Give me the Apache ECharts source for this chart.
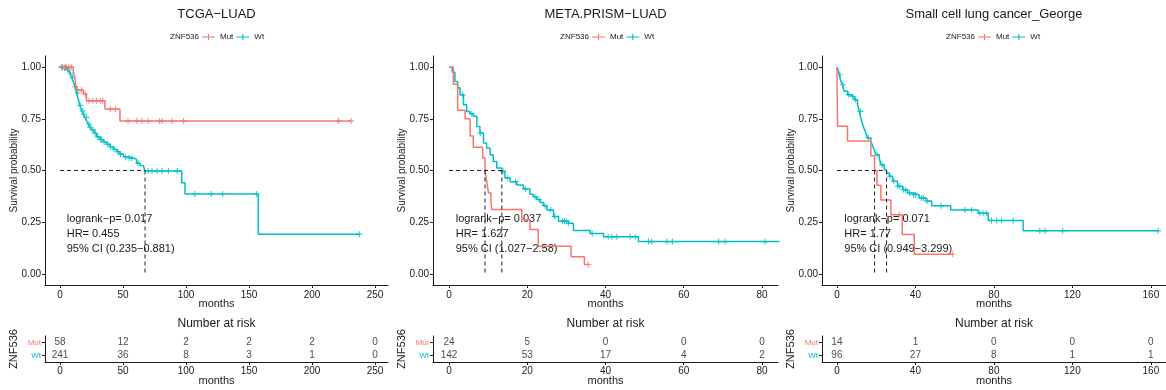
<!DOCTYPE html>
<html>
<head>
<meta charset="utf-8">
<title>ZNF536 survival</title>
<script src="https://cdn.jsdelivr.net/npm/echarts@6/dist/echarts.min.js"></script>
<style>
html,body{margin:0;padding:0;background:#fff}
#chart{width:1166px;height:390px}
</style>
</head>
<body>
<div id="chart"></div>
<script>
// data
var titles = ['TCGA\u2212LUAD', 'META.PRISM\u2212LUAD', 'Small cell lung cancer_George'];

// TCGA-LUAD
var tcgaMutT = [0, 10.6, 11.9, 13.2, 18.5, 21.0, 35.7, 47.6];
var tcgaMutS = [1, 0.98, 0.94, 0.89, 0.87, 0.837, 0.797, 0.74];
var tcgaMutEnd = 231;
var tcgaMutCens = [2, 4, 5, 7, 9, 14, 17, 20, 23, 26, 29, 32, 34, 40, 44, 54, 61, 65, 70, 79, 81, 89, 98, 221, 231];
var tcgaWtT = [0, 3.0, 5.5, 6.6, 8.0, 9.3, 10.5, 11.9, 13.2, 14.5, 15.8, 17.2, 18.5, 19.8, 21.1, 22.5, 23.8, 25.1, 27.1, 29.1, 31.7, 34.4, 37.0, 39.7, 42.3, 45.0, 47.6, 50.3, 54.0, 58.2, 60.8, 63.5, 66.1, 67.5, 96.6, 99.2, 157.4];
var tcgaWtS = [1, 0.996, 0.992, 0.985, 0.972, 0.95, 0.93, 0.905, 0.875, 0.845, 0.815, 0.788, 0.772, 0.757, 0.74, 0.724, 0.71, 0.696, 0.68, 0.663, 0.65, 0.638, 0.627, 0.615, 0.603, 0.591, 0.579, 0.567, 0.56, 0.554, 0.535, 0.524, 0.518, 0.498, 0.441, 0.386, 0.192];
var tcgaWtEnd = 237.6;
var tcgaWtCens = [1, 2, 3.5, 4.5, 6, 8, 10, 12, 14, 16, 18, 19, 21, 23, 24, 26, 28, 30, 32, 33, 35, 38, 40, 43, 46, 48, 52, 55, 57, 62, 70, 73, 77, 81, 86, 93, 107, 120, 129, 156, 237.6];
var tcgaMedians = [67.5];
var tcgaStats = ['logrank\u2212p= 0.017', 'HR= 0.455', '95% CI (0.235\u22120.881)'];
var tcgaTicks = [0, 50, 100, 150, 200, 250];
var tcgaRiskMut = [58, 12, 2, 2, 2, 0];
var tcgaRiskWt = [241, 36, 8, 3, 1, 0];

// META.PRISM-LUAD
var metaMutT = [0, 1.1, 2.2, 4.1, 5.4, 6.2, 8.6, 9.2, 9.6, 10.1, 10.7, 10.9, 18.6, 20.7, 22.8, 31.2, 34.6];
var metaMutS = [1, 0.917, 0.792, 0.75, 0.667, 0.612, 0.56, 0.5, 0.448, 0.391, 0.351, 0.311, 0.262, 0.214, 0.134, 0.083, 0.045];
var metaMutEnd = 35.6;
var metaMutCens = [35.6];
var metaWtT = [0, 0.8, 1.5, 2.2, 2.8, 3.7, 4.5, 5.3, 6.2, 7.1, 7.9, 8.8, 9.6, 10.5, 11.3, 12.2, 13.5, 14.3, 15.6, 17.3, 19.0, 20.7, 21.5, 22.4, 23.3, 24.1, 25.0, 26.7, 28.0, 30.5, 31.8, 36.1, 39.5, 48.4];
var metaWtS = [1, 0.975, 0.931, 0.9, 0.866, 0.818, 0.786, 0.775, 0.762, 0.713, 0.681, 0.633, 0.609, 0.576, 0.544, 0.512, 0.496, 0.464, 0.446, 0.43, 0.41, 0.385, 0.373, 0.36, 0.345, 0.33, 0.309, 0.277, 0.255, 0.245, 0.21, 0.195, 0.18, 0.156];
var metaWtEnd = 84.5;
var metaWtCens = [3.5, 5.8, 8, 13.8, 15, 17, 19.5, 22, 23, 24.5, 26, 27, 29, 29.5, 30, 30.5, 36.6, 40.7, 41.6, 42.9, 46.3, 47.6, 51.0, 51.8, 55.7, 57.1, 68.9, 70.6, 80.8];
var metaMedians = [9.2, 13.5];
var metaStats = ['logrank\u2212p= 0.037', 'HR= 1.627', '95% CI (1.027\u22122.58)'];
var metaTicks = [0, 20, 40, 60, 80];
var metaRiskMut = [24, 5, 0, 0, 0];
var metaRiskWt = [142, 53, 17, 4, 2];

// Small cell lung cancer_George
var sclcMutT = [0, 0.3, 5.4, 17.3, 19.2, 20.4, 22.4, 27.5, 33.3, 39.4];
var sclcMutS = [1, 0.714, 0.643, 0.571, 0.5, 0.429, 0.357, 0.286, 0.19, 0.095];
var sclcMutEnd = 59;
var sclcMutCens = [31.8, 59];
var sclcWtT = [0, 0.5, 1.2, 2.0, 2.9, 3.7, 5.4, 7.1, 8.8, 10.5, 11.4, 12.2, 13.1, 14.0, 14.8, 15.6, 17.3, 18.2, 19.0, 19.9, 21.6, 22.4, 24.1, 25.3, 26.7, 28.4, 30.9, 33.5, 36.0, 38.6, 41.9, 45.4, 48.3, 58.0, 72.0, 77.1, 94.9];
var sclcWtS = [1, 0.99, 0.963, 0.931, 0.915, 0.883, 0.866, 0.858, 0.842, 0.818, 0.786, 0.754, 0.721, 0.7, 0.681, 0.657, 0.641, 0.62, 0.601, 0.576, 0.56, 0.528, 0.504, 0.488, 0.472, 0.448, 0.424, 0.407, 0.391, 0.383, 0.367, 0.352, 0.329, 0.309, 0.293, 0.258, 0.208];
var sclcWtEnd = 163.7;
var sclcWtCens = [1.5, 3, 6, 8, 9.5, 12, 16, 20.5, 23, 27, 29, 31, 32, 34, 35, 37, 39, 40, 43, 44, 46, 53.1, 65.2, 68.6, 72.9, 74.5, 76.3, 78.8, 81.4, 83.9, 89.8, 103.4, 106, 115, 163.7];
var sclcMedians = [19.2, 25.3];
var sclcStats = ['logrank\u2212p= 0.071', 'HR= 1.77', '95% CI (0.949\u22123.299)'];
var sclcTicks = [0, 40, 80, 120, 160];
var sclcRiskMut = [14, 1, 0, 0, 0];
var sclcRiskWt = [96, 27, 8, 1, 1];

var colMut = '#F8766D', colWt = '#00BFC4';
var font = 'Liberation Sans, Arial, sans-serif';
var ink = '#1a1a1a';

var panels = [
    { title: titles[0], mutT: tcgaMutT, mutS: tcgaMutS, mutEnd: tcgaMutEnd, mutCens: tcgaMutCens,
      wtT: tcgaWtT, wtS: tcgaWtS, wtEnd: tcgaWtEnd, wtCens: tcgaWtCens, medians: tcgaMedians,
      stats: tcgaStats, ticks: tcgaTicks, riskMut: tcgaRiskMut, riskWt: tcgaRiskWt },
    { title: titles[1], mutT: metaMutT, mutS: metaMutS, mutEnd: metaMutEnd, mutCens: metaMutCens,
      wtT: metaWtT, wtS: metaWtS, wtEnd: metaWtEnd, wtCens: metaWtCens, medians: metaMedians,
      stats: metaStats, ticks: metaTicks, riskMut: metaRiskMut, riskWt: metaRiskWt },
    { title: titles[2], mutT: sclcMutT, mutS: sclcMutS, mutEnd: sclcMutEnd, mutCens: sclcMutCens,
      wtT: sclcWtT, wtS: sclcWtS, wtEnd: sclcWtEnd, wtCens: sclcWtCens, medians: sclcMedians,
      stats: sclcStats, ticks: sclcTicks, riskMut: sclcRiskMut, riskWt: sclcRiskWt }
];

// pixel layout of each panel
var layout = [
    { left: 45, width: 343, min: -11.9, max: 260.3, textX: 66.7, legendX: 202 },
    { left: 433, width: 345, min: -4.1, max: 84.1, textX: 455.7, legendX: 592 },
    { left: 822, width: 344, min: -7.6, max: 167.7, textX: 844.3, legendX: 978 }
];

function steps(T, S, end) {
    var pts = [];
    for (var i = 0; i < T.length; i++) pts.push([T[i], S[i]]);
    pts.push([end, S[S.length - 1]]);
    return pts;
}
function survAt(T, S, x) {
    var v = S[0];
    for (var i = 0; i < T.length; i++) if (T[i] <= x) v = S[i];
    return v;
}
function cens(T, S, C) {
    return C.map(function (c) { return [c, survAt(T, S, c)]; });
}

var plusSym = 'path://M-0.55,-3H0.55V3H-0.55Z M-3,-0.55H3V0.55H-3Z';
var legendIcon = 'path://M0,3.45H13V4.55H0Z M5.95,1H7.05V7H5.95Z';

var grids = [], xAxes = [], yAxes = [], series = [], legends = [], graphics = [];

panels.forEach(function (p, i) {
    var L = layout[i];
    var cx = L.left + L.width / 2;
    var gMain = 2 * i, gRisk = 2 * i + 1;

    grids.push({ left: L.left, top: 56, width: L.width, height: 229 });
    grids.push({ left: L.left, top: 336, width: L.width, height: 26 });

    function xAxis(grid, margin) {
        return {
            gridIndex: grid, type: 'value', min: L.min, max: L.max,
            axisLine: { show: true, onZero: false, lineStyle: { color: ink, width: 1 } },
            axisTick: { show: true, length: 3, customValues: p.ticks, lineStyle: { color: ink } },
            axisLabel: { customValues: p.ticks, fontFamily: font, fontSize: 10, color: ink, margin: margin },
            splitLine: { show: false }
        };
    }
    xAxes.push(xAxis(gMain, 5));
    xAxes.push(xAxis(gRisk, 4));

    var yTicks = [0, 0.25, 0.5, 0.75, 1];
    yAxes.push({
        gridIndex: gMain, type: 'value', min: -0.054, max: 1.054,
        axisLine: { show: true, onZero: false, lineStyle: { color: ink, width: 1 } },
        axisTick: { show: true, length: 3, customValues: yTicks, lineStyle: { color: ink } },
        axisLabel: { customValues: yTicks, formatter: function (v) { return v.toFixed(2); },
            fontFamily: font, fontSize: 10, color: ink, margin: 4 },
        splitLine: { show: false }
    });
    yAxes.push({
        gridIndex: gRisk, type: 'category', data: ['Wt', 'Mut'],
        axisLine: { show: true, onZero: false, lineStyle: { color: ink, width: 1 } },
        axisTick: { show: true, length: 3, alignWithLabel: true, lineStyle: { color: ink } },
        axisLabel: { fontFamily: font, fontSize: 8, margin: 4,
            color: function (v) { return v === 'Mut' ? colMut : colWt; } }
    });

    // survival curves
    series.push({ name: 'Mut', type: 'line', step: 'end', xAxisIndex: gMain, yAxisIndex: gMain,
        data: steps(p.mutT, p.mutS, p.mutEnd), showSymbol: false, z: 3,
        itemStyle: { color: colMut }, lineStyle: { color: colMut, width: 1.5 } });
    series.push({ name: 'Wt', type: 'line', step: 'end', xAxisIndex: gMain, yAxisIndex: gMain,
        data: steps(p.wtT, p.wtS, p.wtEnd), showSymbol: false, z: 2,
        itemStyle: { color: colWt }, lineStyle: { color: colWt, width: 1.5 } });
    series.push({ name: 'Mut', type: 'scatter', xAxisIndex: gMain, yAxisIndex: gMain,
        data: cens(p.mutT, p.mutS, p.mutCens), symbol: plusSym, symbolSize: 6, z: 3,
        itemStyle: { color: colMut } });
    series.push({ name: 'Wt', type: 'scatter', xAxisIndex: gMain, yAxisIndex: gMain,
        data: cens(p.wtT, p.wtS, p.wtCens), symbol: plusSym, symbolSize: 6, z: 2,
        itemStyle: { color: colWt } });

    // median lines
    var medMax = Math.max.apply(null, p.medians);
    var dashed = { color: '#222', width: 1, type: [4, 3] };
    series.push({ type: 'line', xAxisIndex: gMain, yAxisIndex: gMain, showSymbol: false, z: 5,
        data: [[0, 0.5], [medMax, 0.5]], lineStyle: dashed });
    p.medians.forEach(function (m) {
        series.push({ type: 'line', xAxisIndex: gMain, yAxisIndex: gMain, showSymbol: false, z: 5,
            data: [[m, 0.5], [m, 0]], lineStyle: dashed });
    });

    // number at risk table
    var riskData = [];
    p.ticks.forEach(function (t, k) {
        riskData.push([t, 'Mut', p.riskMut[k]]);
        riskData.push([t, 'Wt', p.riskWt[k]]);
    });
    series.push({ type: 'scatter', xAxisIndex: gRisk, yAxisIndex: gRisk, data: riskData,
        encode: { x: 0, y: 1 }, symbolSize: 2, z: 6,
        itemStyle: { color: 'rgba(0,0,0,0)' },
        label: { show: true, position: 'inside', formatter: function (q) { return String(q.value[2]); },
            fontFamily: font, fontSize: 10, color: ink } });

    legends.push({ data: ['Mut', 'Wt'], left: L.legendX, top: 33, padding: 0, itemGap: 3,
        itemWidth: 13, itemHeight: 8, icon: legendIcon,
        textStyle: { fontFamily: font, fontSize: 8, color: ink } });

    function txt(text, x, y, size, align, rot) {
        graphics.push({ type: 'text', x: x, y: y, rotation: rot || 0, silent: true,
            style: { text: text, font: size + 'px ' + font, fill: ink,
                textAlign: align, align: align, textVerticalAlign: 'middle', verticalAlign: 'middle' } });
    }
    txt(p.title, cx, 14, 13, 'center');
    txt('ZNF536', L.legendX - 3, 37, 8, 'right');
    txt('Survival probability', L.left - 31, 170.5, 10, 'center', Math.PI / 2);
    txt('months', cx, 304, 11, 'center');
    txt('Number at risk', cx, 323.5, 12, 'center');
    txt('ZNF536', L.left - 31, 349, 11, 'center', Math.PI / 2);
    txt('months', cx, 380.5, 11, 'center');
    p.stats.forEach(function (s, k) {
        txt(s, L.textX, 218.5 + 15 * k, 11, 'left');
    });
});

var chart = echarts.init(document.getElementById('chart'));
chart.setOption({
    animation: false,
    backgroundColor: '#fff',
    grid: grids,
    xAxis: xAxes,
    yAxis: yAxes,
    legend: legends,
    series: series,
    graphic: graphics
});
</script>
</body>
</html>
